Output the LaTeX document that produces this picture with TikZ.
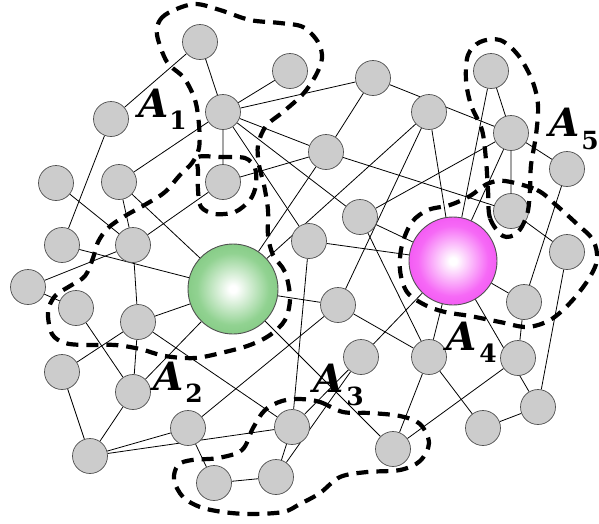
\documentclass[tikz,border=0pt]{standalone}
\usepackage{fontspec}
\newfontfamily\labfont{DejaVu Serif}
\pgfdeclarelayer{bg}
\pgfsetlayers{bg,main}
\definecolor{gout}{RGB}{88,178,88}
\definecolor{gmid}{RGB}{145,210,145}
\definecolor{mout}{RGB}{232,25,232}
\definecolor{mmid}{RGB}{246,105,246}
\definecolor{ndfill}{RGB}{204,204,204}
\definecolor{ndline}{RGB}{80,80,80}
\pgfdeclareradialshading{gball}{\pgfpoint{0bp}{0bp}}{color(0bp)=(white); color(2bp)=(white); color(20bp)=(gmid); color(50bp)=(gout)}
\pgfdeclareradialshading{mball}{\pgfpoint{0bp}{0bp}}{color(0bp)=(white); color(2bp)=(white); color(20bp)=(mmid); color(50bp)=(mout)}
\tikzset{
  nd/.style={circle, minimum size=35, inner sep=0, fill=ndfill, draw=ndline, line width=0.7},
  bigG/.style={circle, minimum size=90, inner sep=0, shading=gball, draw=ndline, line width=0.9},
  bigM/.style={circle, minimum size=88, inner sep=0, shading=mball, draw=ndline, line width=0.9},
  edge/.style={black, line width=0.8},
  region/.style={black, line width=4.2, dash pattern=on 12pt off 8pt},
  lblA/.style={anchor=base, inner sep=0, font=\fontsize{39}{46}\selectfont\labfont\bfseries\itshape},
  lblS/.style={anchor=base, inner sep=0, font=\fontsize{25}{30}\selectfont\labfont\bfseries}
}
\begin{document}
\begin{tikzpicture}[x=1pt,y=-1pt]
\useasboundingbox (0,0) rectangle (599,523);
% nodes
\node[nd] (a) at (200,42) {};
\node[nd] (b) at (290,71) {};
\node[nd] (c) at (373,78) {};
\node[nd] (d) at (491,71) {};
\node[nd] (e) at (111,119) {};
\node[nd] (f) at (223,112) {};
\node[nd] (g) at (429,112) {};
\node[nd] (h) at (511,133) {};
\node[nd] (i) at (326,152) {};
\node[nd] (j) at (567,169) {};
\node[nd] (k) at (56,183) {};
\node[nd] (l) at (119,182) {};
\node[nd] (m) at (223,182) {};
\node[nd] (n) at (360,217) {};
\node[nd] (o) at (511,211) {};
\node[nd] (p) at (62,245) {};
\node[nd] (q) at (133,245) {};
\node[nd] (r) at (309,241) {};
\node[nd] (s) at (567,252) {};
\node[nd] (t) at (28,287) {};
\node[nd] (u) at (76,308) {};
\node[nd] (v) at (138,322) {};
\node[nd] (w) at (338,305) {};
\node[nd] (x) at (524,302) {};
\node[nd] (y) at (62,372) {};
\node[nd] (z) at (133,392) {};
\node[nd] (aa) at (361,357) {};
\node[nd] (ab) at (429,357) {};
\node[nd] (ac) at (518,358) {};
\node[nd] (ad) at (188,428) {};
\node[nd] (ae) at (292,427) {};
\node[nd] (af) at (538,407) {};
\node[nd] (ag) at (483,428) {};
\node[nd] (ah) at (393,449) {};
\node[nd] (ai) at (90,456) {};
\node[nd] (aj) at (214,483) {};
\node[nd] (ak) at (276,477) {};
\node[bigG] (G) at (233,289) {};
\node[bigM] (M) at (453,261) {};
% edges
\begin{pgfonlayer}{bg}
\draw[edge] (a)--(e) (a)--(f);
\draw[edge] (f)--(b) (f)--(c) (f)--(i) (f)--(m) (f)--(n) (f)--(r) (f)--(l);
\draw[edge] (m)--(i) (m)--(q);
\draw[edge] (i)--(c) (i)--(o) (i)--(G);
\draw[edge] (c)--(h);
\draw[edge] (g)--(G) (g)--(w) (g)--(M);
\draw[edge] (d)--(M) (d)--(h);
\draw[edge] (h)--(M) (h)--(o) (h)--(j) (n)--(h);
\draw[edge] (o)--(s) (j)--(x) (s)--(af);
\draw[edge] (M)--(x) (M)--(ab) (M)--(af) (M)--(aa) (M)--(r) (M)--(n);
\draw[edge] (x)--(ac) (ac)--(ah);
\draw[edge] (ab)--(ah) (ab)--(ag) (ab)--(w) (ab)--(n);
\draw[edge] (ag)--(af);
\draw[edge] (w)--(G) (w)--(ad);
\draw[edge] (r)--(ae) (G)--(ah);
\draw[edge] (aa)--(ae) (aa)--(ak);
\draw[edge] (ae)--(ak) (ae)--(ai) (v)--(ae);
\draw[edge] (ai)--(ad) (ai)--(z) (ai)--(y);
\draw[edge] (y)--(v) (z)--(v) (q)--(v);
\draw[edge] (z)--(u) (G)--(z);
\draw[edge] (ad)--(aj) (aj)--(ak);
\draw[edge] (t)--(q) (t)--(u);
\draw[edge] (v)--(G) (p)--(G) (l)--(G) (l)--(q) (k)--(q) (e)--(p);
\end{pgfonlayer}
% regions
\draw[region] plot[smooth cycle, tension=0.55] coordinates {
 (157,35) (160,20) (172,11) (195,4) (220,10) (250,20) (280,23) (303,27) (318,42)
 (322,58) (316,75) (303,94) (283,112) (266,126) (258,145) (259,165) (264,185)
 (268,210) (268,235) (273,255) (285,272) (290,298) (285,320) (270,335) (250,345)
 (225,352) (195,358) (165,356) (140,349) (115,345) (85,345) (65,343) (52,334)
 (48,312) (55,296) (70,286) (85,276) (93,258) (98,242) (108,228) (125,216)
 (148,203) (165,192) (180,175) (192,163) (199,148) (199,125) (195,100) (184,78) (167,62)};
\draw[region] plot[smooth cycle, tension=0.5] coordinates {
 (198,157) (220,157) (245,158) (255,168) (256,185) (250,200) (235,212) (215,214)
 (201,207) (198,190) (198,170)};
\draw[region] plot[smooth cycle, tension=0.55] coordinates {
 (300,399) (320,402) (343,412) (370,413) (400,416) (420,424) (429,443) (420,461)
 (400,470) (367,472) (340,477) (320,493) (300,504) (283,512) (250,514) (223,512)
 (200,507) (183,497) (174,480) (178,465) (192,460) (218,458) (242,450) (253,428)
 (265,410) (282,401)};
\draw[region] plot[smooth cycle, tension=0.55] coordinates {
 (505,181) (537,190) (556,205) (577,224) (593,240) (597,260) (588,280) (570,303)
 (550,320) (527,327) (500,322) (470,316) (445,312) (425,305) (407,292) (400,270)
 (402,245) (412,222) (428,210) (450,205) (470,196) (487,184)};
\draw[region] plot[smooth cycle, tension=0.55] coordinates {
 (503,236) (490,218) (488,190) (486,160) (482,130) (471,105) (466,80) (468,55)
 (480,42) (500,40) (518,55) (532,80) (538,105) (536,135) (531,165) (530,190)
 (527,215) (517,233)};
% labels
\node[lblA] (A1) at (154,117) {A};
\node[lblS] (S1) at (178,129) {1};
\node[lblA] (A2) at (169,390) {A};
\node[lblS] (S2) at (194,402) {2};
\node[lblA] (A3) at (329,392) {A};
\node[lblS] (S3) at (355,405) {3};
\node[lblA] (A4) at (462,350) {A};
\node[lblS] (S4) at (488,362) {4};
\node[lblA] (A5) at (565,136) {A};
\node[lblS] (S5) at (590,149) {5};
\end{tikzpicture}
\end{document}
